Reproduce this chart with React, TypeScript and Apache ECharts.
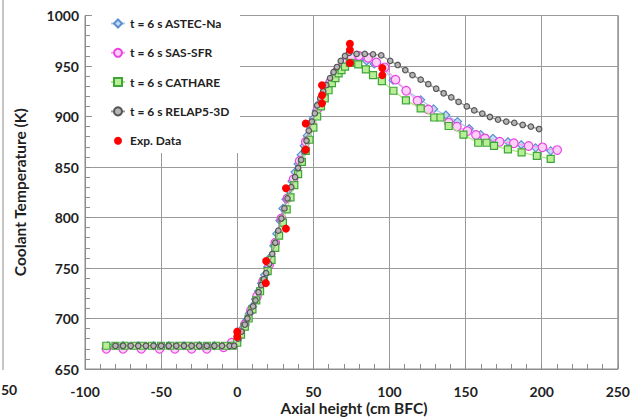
import React, { useEffect, useRef } from "react";
import * as echarts from "echarts";

const X_MIN = -100;
const X_MAX = 250;
const X_STEP = 50;
const X_MINOR_STEP = 10;
const Y_MIN = 650;
const Y_MAX = 1000;
const Y_STEP = 50;
const Y_MINOR_STEP = 10;

const seriesNames = [
  "t = 6 s ASTEC-Na",
  "t = 6 s SAS-SFR",
  "t = 6 s CATHARE",
  "t = 6 s RELAP5-3D",
  "Exp. Data",
];

// [axial height (cm BFC), coolant temperature (K)]
const astecData = [
  [-85, 673], [-75, 673], [-65, 673], [-55, 673], [-45, 673], [-35, 673], [-25, 673], [-15, 673], [-5, 673],
  [0, 678], [2, 685], [4, 691], [6, 698], [8, 705], [10, 712], [12, 719], [14, 727], [16, 735], [18, 743],
  [20, 751], [22, 761], [24, 772], [26, 784], [28, 797], [30, 809], [32, 818], [34, 827], [36, 836],
  [38, 845], [40, 853], [42, 862], [44, 871], [46, 881], [48, 890], [50, 898], [52, 906], [54, 913],
  [56, 920], [58, 927], [60, 933], [62, 938], [64, 943], [66, 947], [68, 950], [70, 953], [72, 956],
  [75, 957], [80, 957], [85, 955], [90, 952], [96, 947.5], [102.4, 936], [111, 926], [120.5, 916.5],
  [129, 907.5], [137, 901.5], [144.7, 895], [152.4, 888], [160, 882], [168, 878.4], [177.8, 875],
  [186.5, 872], [196, 869], [205.9, 866],
];

const sasData = [
  [-86, 670], [-75, 670], [-63, 670], [-51, 670], [-41, 670], [-30, 670], [-20, 670], [-9, 671.5],
  [-3.7, 676], [1, 683], [5, 694], [9, 708], [13, 722], [17, 737], [21, 753], [25, 775], [29, 799],
  [33, 819], [37, 838], [41, 856], [45, 875], [49, 893], [53, 908], [57, 922], [61, 934], [65, 944],
  [70, 953], [75, 959], [80, 960], [86, 958], [91.4, 953.6], [96.8, 948.7], [104, 936.5], [111, 925.5],
  [118.4, 915.6], [125.5, 907], [138.9, 894], [144.3, 890], [151.2, 885.6], [156.8, 881.7],
  [162.7, 878.4], [172.4, 875], [181.7, 873.5], [191.4, 870.8], [200.5, 869.5], [210.2, 866.8],
];

const cathareData = [
  [-86, 673], [-80, 673], [-74, 673], [-68, 673], [-62, 673], [-56, 673], [-50, 673], [-44, 673],
  [-38, 673], [-32, 673], [-26, 673], [-20, 673], [-14, 673], [-8, 673], [-3, 673],
  [0, 676], [2.5, 684], [5, 692], [7.5, 700], [10, 709], [12.5, 718], [15, 727], [17.5, 737], [20, 747],
  [22.5, 758], [25, 770], [27.5, 782], [30, 795], [32.5, 808], [35, 820], [37.5, 832], [40, 843],
  [42.5, 855], [45, 866], [47.5, 877], [50, 889], [52.5, 900], [55, 910], [57.5, 918], [60, 926],
  [62.2, 933], [64.5, 938], [66.6, 942.7], [68.5, 946], [70.8, 949.3], [74, 953], [79.5, 951.7],
  [84.5, 946.7], [89.2, 941], [95, 935], [102.6, 925.5], [110.8, 916], [120.5, 908], [129.4, 899],
  [133.5, 899], [138.9, 890.6], [148.6, 882], [158.3, 874], [163.8, 874], [168.7, 871], [177.8, 867.5],
  [186.8, 864.5], [196.8, 861], [205.9, 858],
];

const relapData = [
  [-80, 673], [-75, 673], [-70, 673], [-65, 673], [-60, 673], [-55, 673], [-50, 673], [-45, 673],
  [-40, 673], [-35, 673], [-30, 673], [-25, 673], [-20, 673], [-15, 673], [-10, 673], [-5, 673],
  [-2, 673], [0.6, 680], [2.8, 687], [5, 694], [6.7, 700], [8.4, 706], [10.4, 712], [12, 718], [14, 726],
  [15.8, 733], [17.5, 739], [19, 745], [21, 754], [23, 764], [25, 775], [27, 787], [29, 799], [31, 809],
  [33, 819], [35.5, 830], [38, 840], [40, 849], [42, 857], [44, 866], [45.5, 876], [47, 886], [49, 895],
  [51, 903], [52.5, 911], [54.5, 918], [56.5, 925], [58.5, 931], [61, 938], [63.3, 944], [65.5, 949],
  [68, 955], [70.8, 960], [73.5, 963], [78.4, 962], [83.8, 962], [89.2, 961.6], [94.6, 960.6],
  [100.5, 955], [105.4, 951], [110.4, 946], [115.1, 941], [120.5, 936.5], [125.5, 932], [130.7, 927.5],
  [135.6, 923], [140.6, 919], [145.4, 914.4], [150.8, 910], [155.7, 906], [161, 902.8], [166, 899.5],
  [171.3, 897], [176.7, 895], [182, 893.6], [187.5, 891.6], [192.9, 890], [198.3, 887.6],
];

const expData = [
  [0, 682], [0, 687], [18.8, 735], [19, 757], [32, 789], [32, 829], [45, 867], [45, 893],
  [55.7, 913], [55.7, 921], [55.7, 931], [74, 953], [74, 966], [74, 972], [95.3, 941], [95.3, 948],
];

const FONT = "Lato, 'Open Sans', sans-serif";
const AXIS_GREY = "#8c8c8c";

function lineSeries(
  name: string,
  data: number[][],
  symbol: string,
  symbolSize: number,
  stroke: string,
  fill: string,
  line: string,
  z: number
) {
  return {
    type: "line",
    name,
    data,
    symbol,
    symbolSize,
    showSymbol: true,
    z,
    lineStyle: { color: line, width: 1.3 },
    itemStyle: { color: fill, borderColor: stroke, borderWidth: 1.2 },
    emphasis: { disabled: true },
  };
}

export default function App() {
  const ref = useRef<HTMLDivElement>(null);

  useEffect(() => {
    document.body.style.margin = "0";
    const chart = echarts.init(ref.current!, null, { renderer: "svg" });
    const axisLabelStyle = {
      fontFamily: FONT,
      fontWeight: "bold",
      fontSize: 14,
      color: "#1f1f1f",
      formatter: (v: number) => String(v),
    };
    // invisible helper axes carrying the inward minor ticks
    const minorAxisCommon = {
      type: "value",
      axisLine: { show: false, onZero: false },
      axisTick: { show: true, inside: true, length: 5, lineStyle: { color: AXIS_GREY } },
      axisLabel: { show: false },
      splitLine: { show: false },
    };
    chart.setOption({
      animation: false,
      backgroundColor: "#ffffff",
      grid: {
        left: 85,
        right: 10,
        top: 15.5,
        bottom: 50,
        show: true,
        borderColor: AXIS_GREY,
        borderWidth: 1,
        backgroundColor: "transparent",
      },
      legend: {
        left: 93,
        top: 0,
        orient: "vertical",
        padding: [17.5, 12, 7, 17],
        itemWidth: 14,
        itemHeight: 10,
        itemGap: 17.3,
        z: 5,
        textStyle: {
          fontFamily: FONT,
          fontWeight: "bold",
          fontSize: 12,
          color: "#222",
        },
        data: seriesNames,
      },
      xAxis: [
        {
          type: "value",
          min: X_MIN,
          max: X_MAX,
          interval: X_STEP,
          axisLine: { show: true, onZero: false, lineStyle: { color: AXIS_GREY } },
          axisTick: { show: false },
          splitLine: { show: true, lineStyle: { color: "#9a9a9a", width: 1 } },
          axisLabel: { ...axisLabelStyle, margin: 15 },
        },
        {
          ...minorAxisCommon,
          position: "bottom",
          min: X_MIN,
          max: X_MAX,
          interval: X_MINOR_STEP,
        },
      ],
      yAxis: [
        {
          type: "value",
          min: Y_MIN,
          max: Y_MAX,
          interval: Y_STEP,
          name: "Coolant Temperature (K)",
          nameLocation: "middle",
          nameGap: 57,
          nameTextStyle: { fontFamily: FONT, fontWeight: "bold", fontSize: 15.5, color: "#1f1f1f" },
          axisLine: { show: true, onZero: false, lineStyle: { color: AXIS_GREY } },
          axisTick: { show: false },
          splitLine: { show: true, lineStyle: { color: "#9a9a9a", width: 1 } },
          axisLabel: { ...axisLabelStyle, margin: 6 },
        },
        {
          ...minorAxisCommon,
          position: "left",
          min: Y_MIN,
          max: Y_MAX,
          interval: Y_MINOR_STEP,
        },
      ],
      graphic: [
        {
          type: "rect",
          z: 1,
          shape: { x: 92, y: 0, width: 148, height: 153 },
          style: { fill: "#ffffff" },
        },
        {
          type: "line",
          shape: { x1: 3, y1: 0, x2: 3, y2: 370 },
          style: { stroke: AXIS_GREY, lineWidth: 1 },
        },
        {
          type: "text",
          x: 1,
          y: 382,
          style: { text: "50", font: `bold 14px ${FONT}`, fill: "#1f1f1f" },
        },
        {
          type: "text",
          x: 354,
          y: 408,
          style: {
            text: "Axial height (cm BFC)",
            font: `bold 15.5px ${FONT}`,
            fill: "#1f1f1f",
            align: "center",
            verticalAlign: "middle",
          },
        },
      ],
      series: [
        lineSeries(seriesNames[0], astecData, "diamond", 8, "#5b8fcf", "#c5dbf2", "#a9c9ec", 2),
        lineSeries(seriesNames[1], sasData, "circle", 8.5, "#e845e0", "#ffd0fb", "#ff9cf5", 3),
        lineSeries(seriesNames[2], cathareData, "rect", 7, "#3ea53a", "#b8ee94", "#a6ec78", 4),
        lineSeries(seriesNames[3], relapData, "circle", 5.5, "#555555", "#b5b5b5", "#9a9a9a", 5),
        {
          type: "line",
          name: seriesNames[4],
          data: expData,
          symbol: "circle",
          symbolSize: 8,
          z: 6,
          lineStyle: { opacity: 0, width: 0 },
          itemStyle: { color: "#ff0000", borderWidth: 0 },
          emphasis: { disabled: true },
        },
      ],
    });
    return () => chart.dispose();
  }, []);

  return (
    <div
      ref={ref}
      style={{ position: "absolute", left: 0, top: 0, width: 633, height: 419 }}
    />
  );
}
